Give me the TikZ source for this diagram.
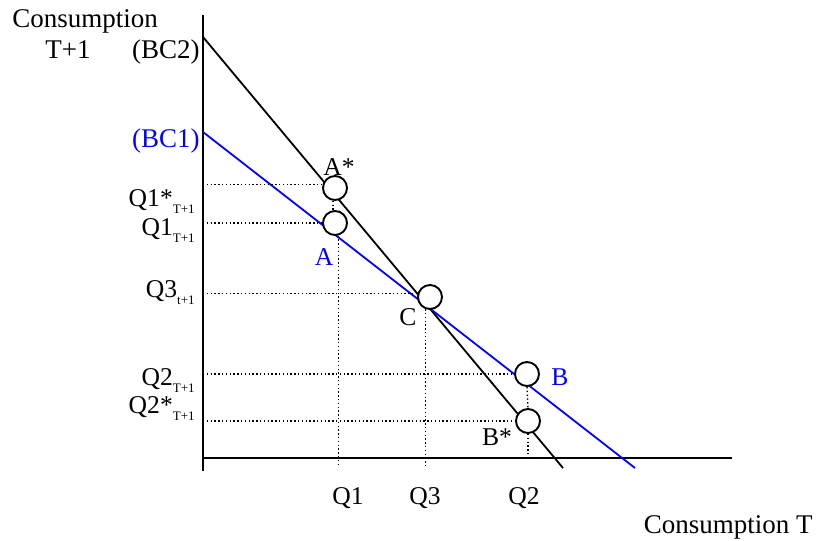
\documentclass[tikz,border=0pt]{standalone}
\usepackage{fontspec}
\setmainfont{Liberation Serif}
\usetikzlibrary{positioning}

\newcommand{\lowsub}[1]{\raisebox{-3.5pt}{\fontsize{6.5}{7}\selectfont #1}}

\begin{document}
\begin{tikzpicture}[
        x = 0.5pt, y = -0.5pt,
        axis/.style   = {line width = 1.1pt},
        budget/.style = {line width = 0.9pt},
        guide/.style  = {line width = 0.7pt, dash pattern = on 0.7pt off 1.2pt},
        point/.style  = {circle, draw, fill = white, line width = 0.95pt,
                         minimum size = 12pt, inner sep = 0pt},
        lbl/.style    = {font = \fontsize{12.8}{14}\selectfont, inner sep = 0pt},
        big/.style    = {font = \fontsize{13.5}{15}\selectfont, inner sep = 0pt}
    ]

      \useasboundingbox (0,0) rectangle (816,541);

      % axes
      \coordinate (origin) at (203,458);
      \coordinate (ytop)   at (203,15);
      \coordinate (ybot)   at (203,471);
      \coordinate (xend)   at (732,458);
      \coordinate (xfoot)  at (203,467);

      \draw[axis] (ytop) -- (ybot);
      \draw[axis] (origin) -- (xend);

      % budget lines
      \coordinate (bc2top) at (203,37);
      \coordinate (bc2end) at (563,468);
      \coordinate (bc1top) at (203,132);
      \coordinate (bc1end) at (635,468);

      \draw[budget] (bc2top) -- (bc2end);
      \draw[budget, blue] (bc1top) -- (bc1end);

      % points
      \node[point] (aStar) at (335,188) {};
      \node[point] (a)     at (335,223) {};
      \node[point] (c)     at (430,297) {};
      \node[point] (b)     at (527,374) {};
      \node[point] (bStar) at (528,421) {};

      % guides
      \draw[guide] (origin |- aStar.165) -- (aStar.165);
      \draw[guide] (origin |- a.west) -- (a.west);
      \draw[guide] (origin |- c.165) -- (c.165);
      \draw[guide] (origin |- b.west) -- (b.west);
      \draw[guide] (origin |- bStar.west) -- (bStar.west);

      \draw[guide] (aStar.262) -- (a.98);
      \draw[guide] (a.285) -- (a.285 |- xfoot);
      \draw[guide] (c.250) -- (c.250 |- xfoot);
      \draw[guide] (b.south) -- (bStar.north);
      \draw[guide] (bStar.south) -- (bStar.south |- origin);

      % axis titles
      \node[big, anchor = base west] (ytitle) at (12,27) {Consumption};
      \node[big, anchor = base west] (ytitle2) at (45,58) {T+1};
      \node[big, anchor = base east] (bc2) at (200,58) {(BC2)};
      \node[big, anchor = base east, text = blue] (bc1) at (200,147) {(BC1)};
      \node[big, anchor = base east] (xtitle) at (813,533) {Consumption T};

      % point labels
      \node[lbl, anchor = base] (aStarLbl) at (339,175) {A*};
      \node[lbl, anchor = base, text = blue] (aLbl) at (324,265) {A};
      \node[lbl, anchor = base] (cLbl) at (408,325) {C};
      \node[lbl, anchor = base, text = blue] (bLbl) at (560,385) {B};
      \node[lbl, anchor = base] (bStarLbl) at (497,445) {B*};

      % quantities
      \node[lbl, anchor = base east] (q1StarY) at (195,206) {Q1*\lowsub{T+1}};
      \node[lbl, anchor = base east] (q1Y)     at (195,235) {Q1\lowsub{T+1}};
      \node[lbl, anchor = base east] (q3Y)     at (195,297) {Q3\lowsub{t+1}};
      \node[lbl, anchor = base east] (q2Y)     at (195,385) {Q2\lowsub{T+1}};
      \node[lbl, anchor = base east] (q2StarY) at (195,413) {Q2*\lowsub{T+1}};

      \node[lbl, anchor = base] (q1X) at (348,504) {Q1};
      \node[lbl, anchor = base] (q3X) at (425,504) {Q3};
      \node[lbl, anchor = base] (q2X) at (524,504) {Q2};

    \end{tikzpicture}
\end{document}
